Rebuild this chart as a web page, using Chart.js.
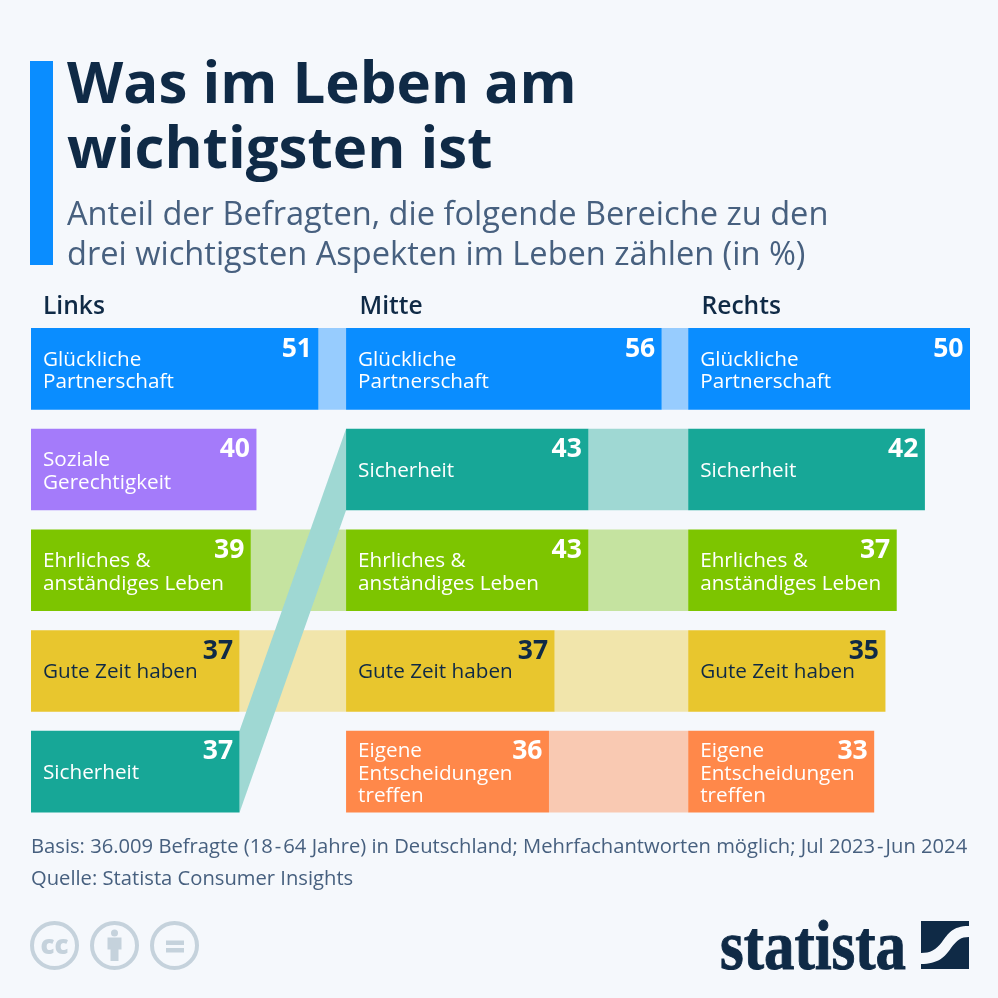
<!DOCTYPE html>
<html lang="de">
<head>
<meta charset="utf-8">
<title>Was im Leben am wichtigsten ist</title>
<script src="https://cdn.jsdelivr.net/npm/chart.js@4"></script>
<style>
  html, body { margin: 0; padding: 0; width: 998px; height: 998px; background: #f5f8fc; overflow: hidden; font-family: "Open Sans", sans-serif; }
  #chart { position: absolute; left: 0; top: 0; }
  .abs { position: absolute; white-space: nowrap; }
  #accent { left: 30px; top: 61px; width: 23px; height: 204px; background: #0a8dff; }
  #title { left: 67px; top: 48px; font-size: 58.2px; line-height: 65px; font-weight: 700; color: #0f2a46; }
  #subtitle { left: 67px; top: 193px; font-size: 32.6px; line-height: 40px; color: #47607f; }
  .head { top: 290px; font-size: 24.6px; line-height: 30px; font-weight: 600; color: #0f2a46; }
  #foot { left: 31px; top: 828.5px; font-size: 20.2px; line-height: 32px; color: #47607f; }
  #foot span { margin: 0 2px; }
  svg { position: absolute; left: 0; top: 0; }
</style>
</head>
<body>
<canvas id="chart" width="998" height="998"></canvas>
<div class="abs" id="accent"></div>
<div class="abs" id="title">Was im Leben am<br>wichtigsten ist</div>
<div class="abs" id="subtitle">Anteil der Befragten, die folgende Bereiche zu den<br>drei wichtigsten Aspekten im Leben zählen (in %)</div>
<div class="abs head" style="left:43px">Links</div>
<div class="abs head" style="left:359.5px">Mitte</div>
<div class="abs head" style="left:701.5px">Rechts</div>
<div class="abs" id="foot">Basis: 36.009 Befragte (18<span>-</span>64 Jahre) in Deutschland; Mehrfachantworten möglich; Jul 2023<span>-</span>Jun 2024<br>Quelle: Statista Consumer Insights</div>
<svg width="998" height="998" viewBox="0 0 998 998">
  <g fill="none" stroke="#c5d2dc" stroke-width="4">
    <circle cx="54.5" cy="945.5" r="22.5"/>
    <circle cx="114.5" cy="945.5" r="22.5"/>
    <circle cx="174.5" cy="945.5" r="22.5"/>
  </g>
  <g fill="#c5d2dc">
    <text x="54.5" y="954" text-anchor="middle" font-family="Open Sans" font-weight="800" font-size="26">cc</text>
    <circle cx="114.5" cy="933" r="3.5"/>
    <path d="M107.5 937.5h14v12h-3v11.5h-8v-11.5h-3z"/>
    <rect x="166" y="940.5" width="18" height="4.5"/>
    <rect x="166" y="948" width="18" height="4.5"/>
  </g>
  <text x="720" y="969" font-family="Liberation Sans Narrow" font-weight="700" font-size="70" fill="#0f2a46" stroke="#0f2a46" stroke-width="1" textLength="186" lengthAdjust="spacingAndGlyphs">statista</text>
  <path fill="#0f2a46" d="M921 921H969V926C952 926 948 934 942 942C936 950 930 953 921 953Z"/>
  <path fill="#0f2a46" d="M969 937V969H921V964C938 964 945 957 951 948C957 940 961 937 969 937Z"/>
</svg>
<script>
// rows top to bottom, one list per column
const rows = ['1', '2', '3', '4', '5'];

const categoriesLinks = ['Glückliche\nPartnerschaft', 'Soziale\nGerechtigkeit', 'Ehrliches &\nanständiges Leben', 'Gute Zeit haben', 'Sicherheit'];
const valuesLinks = [51, 40, 39, 37, 37];

const categoriesMitte = ['Glückliche\nPartnerschaft', 'Sicherheit', 'Ehrliches &\nanständiges Leben', 'Gute Zeit haben', 'Eigene\nEntscheidungen\ntreffen'];
const valuesMitte = [56, 43, 43, 37, 36];

const categoriesRechts = ['Glückliche\nPartnerschaft', 'Sicherheit', 'Ehrliches &\nanständiges Leben', 'Gute Zeit haben', 'Eigene\nEntscheidungen\ntreffen'];
const valuesRechts = [50, 42, 37, 35, 33];

const columns = [categoriesLinks, categoriesMitte, categoriesRechts];

const barColors = {
  'Glückliche\nPartnerschaft': '#0a8dff',
  'Soziale\nGerechtigkeit': '#a47bfa',
  'Sicherheit': '#17a797',
  'Ehrliches &\nanständiges Leben': '#7dc500',
  'Gute Zeit haben': '#e8c62e',
  'Eigene\nEntscheidungen\ntreffen': '#ff884a'
};
const linkColors = {
  'Glückliche\nPartnerschaft': '#97ccfe',
  'Sicherheit': '#9fd8d3',
  'Ehrliches &\nanständiges Leben': '#c5e3a0',
  'Gute Zeit haben': '#f1e5ab',
  'Eigene\nEntscheidungen\ntreffen': '#f9c9b2'
};
const darkText = '#0f2a46';

// the ribbons that tie a category to its place in the next column
const linkPlugin = {
  id: 'links',
  beforeDatasetsDraw(chart) {
    const ctx = chart.ctx;
    for (let c = 0; c < 2; c++) {
      const from = chart.getDatasetMeta(c).data;
      const to = chart.getDatasetMeta(c + 1).data;
      const x1 = chart.scales['x' + (c + 2)].getPixelForValue(0);
      columns[c].forEach(function(cat, i) {
        const j = columns[c + 1].indexOf(cat);
        if (j < 0) {
          return;
        }
        const a = from[i].getProps(['x', 'y', 'height'], true);
        const b = to[j].getProps(['y', 'height'], true);
        ctx.fillStyle = linkColors[cat];
        ctx.beginPath();
        ctx.moveTo(a.x, a.y - a.height / 2);
        ctx.lineTo(x1, b.y - b.height / 2);
        ctx.lineTo(x1, b.y + b.height / 2);
        ctx.lineTo(a.x, a.y + a.height / 2);
        ctx.closePath();
        ctx.fill();
      });
    }
  },
  afterDatasetsDraw(chart) {
    const ctx = chart.ctx;
    ctx.save();
    columns.forEach(function(cats, c) {
      const meta = chart.getDatasetMeta(c);
      const x0 = chart.scales['x' + (c + 1)].getPixelForValue(0);
      const values = chart.data.datasets[c].data;
      cats.forEach(function(cat, i) {
        const bar = meta.data[i].getProps(['x', 'y', 'height'], true);
        const color = cat === 'Gute Zeit haben' ? darkText : '#ffffff';
        ctx.fillStyle = color;
        const lines = cat.split('\n');
        ctx.font = '20.7px "Open Sans"';
        ctx.textAlign = 'left';
        ctx.textBaseline = 'alphabetic';
        const base = lines.length > 1 ? 8 : 7;
        lines.forEach(function(line, l) {
          ctx.fillText(line, x0 + 12, bar.y + base + (l - (lines.length - 1) / 2) * 22.5);
        });
        ctx.font = '700 26.5px "Open Sans"';
        ctx.textAlign = 'right';
        ctx.fillText(values[i], bar.x - 6.5, bar.y - bar.height / 2 + 28.5);
      });
    });
    ctx.restore();
  }
};

function dataset(values, cats, axis) {
  return {
    data: values,
    xAxisID: axis,
    backgroundColor: cats.map(function(cat) { return barColors[cat]; }),
    borderWidth: 0,
    barPercentage: 1,
    categoryPercentage: 0.81,
    grouped: false
  };
}

function hiddenAxis(min, max) {
  return { type: 'linear', display: false, min: min, max: max };
}

new Chart(document.getElementById('chart'), {
  type: 'bar',
  data: {
    labels: rows,
    datasets: [
      dataset(valuesLinks, categoriesLinks, 'x1'),
      dataset(valuesMitte, categoriesMitte, 'x2'),
      dataset(valuesRechts, categoriesRechts, 'x3')
    ]
  },
  options: {
    indexAxis: 'y',
    responsive: false,
    animation: false,
    layout: { padding: { left: 31, right: 28, top: 318.5, bottom: 176 } },
    plugins: { legend: { display: false }, tooltip: { enabled: false } },
    scales: {
      y: { display: false },
      // same px per percent in all three columns, only the zero moves
      x1: hiddenAxis(0, 166.6),
      x2: hiddenAxis(-55.9, 110.7),
      x3: hiddenAxis(-116.6, 50)
    }
  },
  plugins: [linkPlugin]
});
</script>
</body>
</html>
